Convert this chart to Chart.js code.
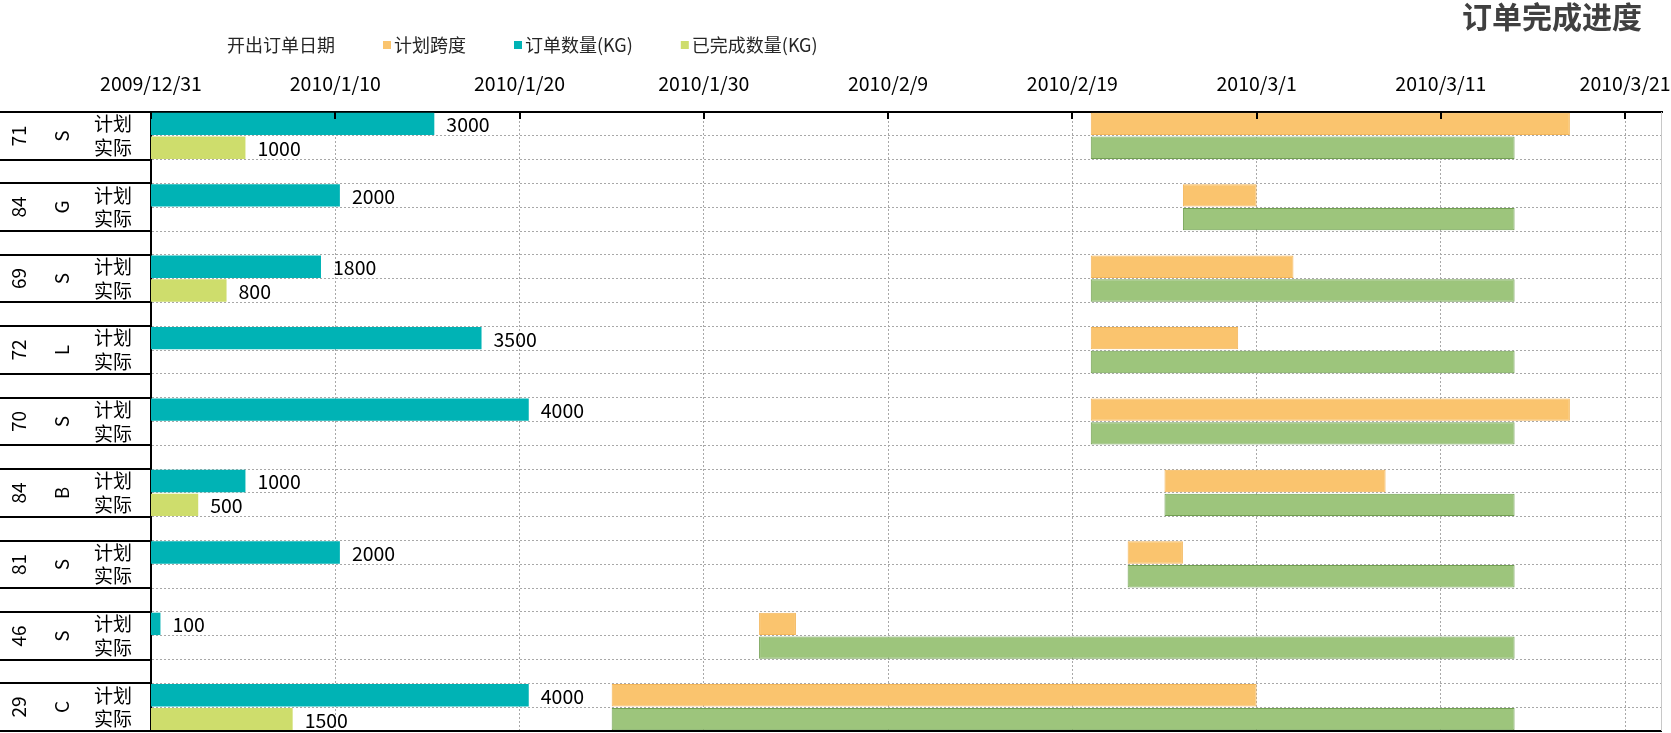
<!DOCTYPE html>
<html>
<head>
<meta charset="utf-8">
<script src="https://cdn.jsdelivr.net/npm/chart.js@4/dist/chart.umd.min.js"></script>
<style>
html, body { margin: 0; padding: 0; background: #fff; }
#wrap { width: 1671px; height: 733px; position: relative; }
</style>
</head>
<body>
<div id="wrap"><canvas id="myChart"></canvas></div>
<script>
// 数据
let dingdanHao = ['71', '84', '69', '72', '70', '84', '81', '46', '29'];
let leibie = ['S', 'G', 'S', 'L', 'S', 'B', 'S', 'S', 'C'];
let hangMing = ['计划', '实际'];
let kaidanRiqi = ['2010-02-20', '2010-02-25', '2010-02-20', '2010-02-20', '2010-02-20', '2010-02-24', '2010-02-22', '2010-02-02', '2010-01-25'];
let jihuaWancheng = ['2010-03-18', '2010-03-01', '2010-03-03', '2010-02-28', '2010-03-18', '2010-03-08', '2010-02-25', '2010-02-04', '2010-03-01'];
let shijiWancheng = ['2010-03-15', '2010-03-15', '2010-03-15', '2010-03-15', '2010-03-15', '2010-03-15', '2010-03-15', '2010-03-15', '2010-03-15'];
let dingdanShuliang = [3000, 2000, 1800, 3500, 4000, 1000, 2000, 100, 4000];
let wanchengShuliang = [1000, null, 800, null, null, 500, null, null, 1500];
let riqiQi = '2009-12-31';
let riqiZhi = '2010-03-23';
let shuliangZhi = 16000;
let tuliMing = ['开出订单日期', '计划跨度', '订单数量(KG)', '已完成数量(KG)'];
let biaoti = '订单完成进度';

let ziti = "'Noto Sans CJK SC', 'Noto Sans', sans-serif";
Chart.defaults.font.family = ziti;

function tian(s) {
    let p = s.split('-');
    return (Date.UTC(+p[0], +p[1] - 1, +p[2]) - Date.UTC(2009, 11, 31)) / 86400000;
}
function riqiWenzi(v) {
    let d = new Date(Date.UTC(2009, 11, 31) + v * 86400000);
    return d.getUTCFullYear() + '/' + (d.getUTCMonth() + 1) + '/' + d.getUTCDate();
}

// 行: 计划, 实际, 空行
let hangBiaoqian = [];
let jihuaKuadu = [], shijiKuadu = [], dingdanShu = [], wanchengShu = [];
for (let i = 0; i < dingdanHao.length; i++) {
    hangBiaoqian.push(dingdanHao[i] + ' ' + leibie[i] + ' ' + hangMing[0]);
    hangBiaoqian.push(dingdanHao[i] + ' ' + leibie[i] + ' ' + hangMing[1]);
    jihuaKuadu.push([tian(kaidanRiqi[i]), tian(jihuaWancheng[i])], null);
    shijiKuadu.push(null, [tian(kaidanRiqi[i]), tian(shijiWancheng[i])]);
    dingdanShu.push(dingdanShuliang[i], null);
    wanchengShu.push(null, wanchengShuliang[i]);
    if (i < dingdanHao.length - 1) {
        hangBiaoqian.push('');
        jihuaKuadu.push(null); shijiKuadu.push(null); dingdanShu.push(null); wanchengShu.push(null);
    }
}

const fuzhu = {
    id: 'fuzhu',
    afterDraw(chart) {
        const ctx = chart.ctx;
        const ca = chart.chartArea;
        const ys = chart.scales.y;
        const xs = chart.scales.x;
        const rowH = ys.getPixelForValue(1) - ys.getPixelForValue(0);
        ctx.save();

        // 左侧分类标签
        ctx.strokeStyle = '#000';
        ctx.lineWidth = 2;
        ctx.fillStyle = '#000';
        for (let i = 0; i < dingdanHao.length; i++) {
            let yP = ys.getPixelForValue(i * 3);
            let yA = ys.getPixelForValue(i * 3 + 1);
            let top = Math.round(yP - rowH / 2);
            let bot = Math.round(yA + rowH / 2);
            ctx.beginPath();
            ctx.moveTo(0, top); ctx.lineTo(ca.left, top);
            ctx.moveTo(0, bot); ctx.lineTo(ca.left, bot);
            ctx.stroke();
            let mid = (top + bot) / 2;
            ctx.font = '19px ' + ziti;
            ctx.textAlign = 'center';
            ctx.textBaseline = 'middle';
            ctx.save();
            ctx.translate(19, mid);
            ctx.rotate(-Math.PI / 2);
            ctx.fillText(dingdanHao[i], 0, 0);
            ctx.restore();
            ctx.save();
            ctx.translate(62, mid);
            ctx.rotate(-Math.PI / 2);
            ctx.fillText(leibie[i], 0, 0);
            ctx.restore();
            ctx.fillText(hangMing[0], 113, yP);
            ctx.fillText(hangMing[1], 113, yA);
        }

        // 数据标签
        ctx.font = '19.5px ' + ziti;
        ctx.textAlign = 'left';
        ctx.textBaseline = 'middle';
        [2, 3].forEach(di => {
            const meta = chart.getDatasetMeta(di);
            chart.data.datasets[di].data.forEach((v, j) => {
                if (v === null) return;
                const el = meta.data[j];
                ctx.fillText(String(v), el.x + 12, el.y + 1);
            });
        });

        // 顶部刻度线
        ctx.strokeStyle = '#000';
        ctx.lineWidth = 2;
        ctx.beginPath();
        xs.ticks.forEach(t => {
            let px = Math.round(xs.getPixelForValue(t.value));
            ctx.moveTo(px, ca.top);
            ctx.lineTo(px, ca.top + 7);
        });
        ctx.stroke();

        // 边框
        ctx.beginPath();
        ctx.moveTo(0, ca.top); ctx.lineTo(ca.left, ca.top);
        ctx.moveTo(0, ca.bottom); ctx.lineTo(ca.right, ca.bottom);
        ctx.stroke();
        ctx.strokeStyle = '#C8C8C8';
        ctx.lineWidth = 1;
        ctx.beginPath();
        ctx.moveTo(Math.round(ca.right) - 0.5, ca.top);
        ctx.lineTo(Math.round(ca.right) - 0.5, ca.bottom);
        ctx.stroke();

        // 标题
        ctx.fillStyle = '#404040';
        ctx.font = 'bold 30px ' + ziti;
        ctx.textAlign = 'right';
        ctx.textBaseline = 'middle';
        ctx.fillText(biaoti, 1642, 17);

        // 图例
        const szinek = ['rgba(0,0,0,0)', chart.data.datasets[0].backgroundColor, chart.data.datasets[2].backgroundColor, chart.data.datasets[3].backgroundColor];
        ctx.font = '18px ' + ziti;
        ctx.textAlign = 'left';
        let lx = 216;
        tuliMing.forEach((m, k) => {
            ctx.fillStyle = szinek[k];
            ctx.fillRect(lx, 41, 8, 8);
            ctx.fillStyle = '#262626';
            ctx.fillText(m, lx + 11, 45);
            lx += 11 + ctx.measureText(m).width + 48;
        });

        ctx.restore();
    }
};

var ctx = document.getElementById('myChart').getContext('2d');
var myBarChart = new Chart(ctx, {
    type: 'bar',
    data: {
        labels: hangBiaoqian,
        datasets: [
            {
                label: '计划跨度',
                xAxisID: 'x',
                data: jihuaKuadu,
                backgroundColor: '#FAC46E',
                borderColor: '#F3B558',
                borderWidth: 1,
                borderSkipped: false
            },
            {
                label: '实际跨度',
                xAxisID: 'x',
                data: shijiKuadu,
                backgroundColor: '#9DC57C',
                borderColor: '#72A052',
                borderWidth: 1,
                borderSkipped: false
            },
            {
                label: '订单数量(KG)',
                xAxisID: 'x2',
                data: dingdanShu,
                backgroundColor: '#00B3B5'
            },
            {
                label: '已完成数量(KG)',
                xAxisID: 'x2',
                data: wanchengShu,
                backgroundColor: '#CEDD6C'
            }
        ]
    },
    options: {
        indexAxis: 'y',
        responsive: true,
        maintainAspectRatio: false,
        animation: false,
        layout: {
            padding: { left: 151, right: 9, top: 72, bottom: 2 }
        },
        datasets: {
            bar: { grouped: false, barPercentage: 0.94, categoryPercentage: 1 }
        },
        scales: {
            x: {
                type: 'linear',
                position: 'top',
                min: tian(riqiQi),
                max: tian(riqiZhi),
                afterFit: s => { s.height = 40; s.paddingLeft = 0; s.paddingRight = 0; },
                ticks: {
                    stepSize: 10,
                    includeBounds: false,
                    color: '#000',
                    padding: 17,
                    maxRotation: 0,
                    font: { size: 19.5 },
                    callback: v => riqiWenzi(v)
                },
                grid: { color: '#A8A8A8', lineWidth: 1, drawTicks: false },
                border: { display: true, color: '#000', width: 2, dash: [2, 2] }
            },
            x2: {
                type: 'linear',
                axis: 'x',
                display: false,
                min: 0,
                max: shuliangZhi
            },
            y: {
                type: 'category',
                afterFit: s => { s.width = 0; },
                ticks: { display: false },
                grid: { color: '#A8A8A8', lineWidth: 1, drawTicks: false },
                border: { display: true, color: '#000', width: 2, dash: [2, 2] }
            }
        },
        plugins: {
            legend: { display: false },
            title: { display: false },
            tooltip: { enabled: false }
        }
    },
    plugins: [fuzhu]
});
</script>
</body>
</html>
